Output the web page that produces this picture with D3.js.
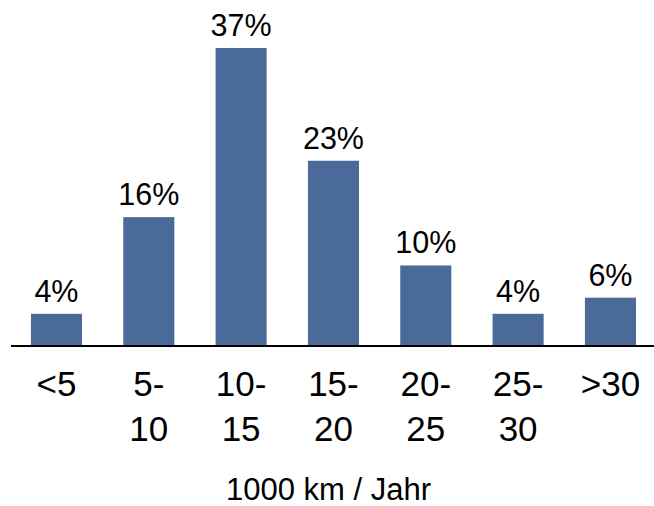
<!DOCTYPE html>
<html>
<head>
<meta charset="utf-8">
<script src="https://cdn.jsdelivr.net/npm/d3@7"></script>
<style>
  html, body { margin: 0; padding: 0; background: #fff; }
  svg { display: block; font-family: Arial, "Liberation Sans", sans-serif; }
</style>
</head>
<body>
<svg id="chart" width="654" height="506"></svg>
<script>
// Distance driven per year (thousand km), share of vehicles in each band
const categories = ["<5", "5-10", "10-15", "15-20", "20-25", "25-30", ">30"];
const tickLines = [["<5"], ["5-", "10"], ["10-", "15"], ["15-", "20"], ["20-", "25"], ["25-", "30"], [">30"]];
const shares = [4, 16, 37, 23, 10, 4, 6];
const axisTitle = "1000 km / Jahr";

const svg = d3.select("#chart");
const baseY = 346;

const x = d3.scaleBand()
  .domain(categories)
  .range([10.3, 656.6])
  .paddingInner(0.447)
  .paddingOuter(0.2235);

const y = d3.scaleLinear()
  .domain([0, 37])
  .range([baseY, 48]);

const data = categories.map((c, i) => ({ cat: c, value: shares[i], lines: tickLines[i] }));

// Bars
svg.append("g").selectAll("rect")
  .data(data)
  .join("rect")
  .attr("x", d => x(d.cat))
  .attr("y", d => y(d.value))
  .attr("width", x.bandwidth())
  .attr("height", d => baseY - y(d.value))
  .attr("fill", "#4a6a9a");

// Value labels
svg.append("g").selectAll("text")
  .data(data)
  .join("text")
  .attr("x", d => x(d.cat) + x.bandwidth() / 2)
  .attr("y", d => y(d.value) - 12)
  .attr("text-anchor", "middle")
  .attr("font-size", 30.5)
  .attr("fill", "#000")
  .text(d => d.value + "%");

// Baseline
svg.append("line")
  .attr("x1", 11).attr("x2", 654)
  .attr("y1", baseY).attr("y2", baseY)
  .attr("stroke", "#000")
  .attr("stroke-width", 2);

// Category labels (two lines where the range is split)
const ticks = svg.append("g").selectAll("text")
  .data(data)
  .join("text")
  .attr("text-anchor", "middle")
  .attr("font-size", 35)
  .attr("fill", "#000");

ticks.selectAll("tspan")
  .data(d => d.lines.map((t, j) => ({ t, j, cx: x(d.cat) + x.bandwidth() / 2 })))
  .join("tspan")
  .attr("x", d => d.cx)
  .attr("y", d => 396 + d.j * 45)
  .text(d => d.t);

// Axis title
svg.append("text")
  .attr("x", 328.5)
  .attr("y", 500)
  .attr("text-anchor", "middle")
  .attr("font-size", 31)
  .attr("fill", "#000")
  .text(axisTitle);
</script>
</body>
</html>
